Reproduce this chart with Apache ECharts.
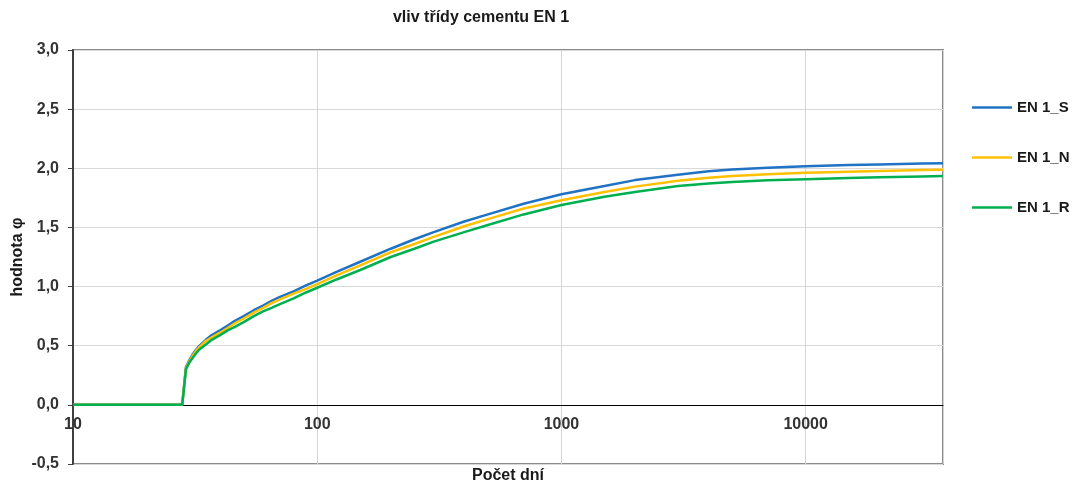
<!DOCTYPE html>
<html>
<head>
<meta charset="utf-8">
<script src="https://cdn.jsdelivr.net/npm/echarts@6/dist/echarts.min.js"></script>
<style>
  html, body { margin: 0; padding: 0; background: #fff; }
  #chart { width: 1073px; height: 484px; }
</style>
</head>
<body>
<div id="chart"></div>
<script>
// Age of concrete in days (log scale)
const days = [10, 28, 29, 30, 31, 32, 33, 35, 37, 40, 43, 46, 50, 55, 60, 65, 70, 80, 90, 100, 120, 150, 200, 250, 300, 400, 500, 700, 1000, 1500, 2000, 3000, 4000, 5000, 7000, 10000, 15000, 20000, 30000, 36500];

// Creep coefficient for cement classes S, N, R
const phiS = [0, 0, 0.32, 0.38, 0.43, 0.47, 0.50, 0.55, 0.59, 0.63, 0.67, 0.71, 0.75, 0.80, 0.84, 0.88, 0.91, 0.96, 1.01, 1.05, 1.125, 1.21, 1.32, 1.40, 1.46, 1.55, 1.61, 1.70, 1.78, 1.85, 1.90, 1.945, 1.975, 1.99, 2.005, 2.018, 2.027, 2.033, 2.04, 2.043];
const phiN = [0, 0, 0.31, 0.37, 0.42, 0.46, 0.49, 0.54, 0.57, 0.61, 0.65, 0.69, 0.73, 0.78, 0.82, 0.86, 0.89, 0.94, 0.98, 1.02, 1.095, 1.18, 1.29, 1.36, 1.42, 1.51, 1.57, 1.66, 1.73, 1.80, 1.845, 1.895, 1.92, 1.935, 1.95, 1.962, 1.971, 1.977, 1.985, 1.988];
const phiR = [0, 0, 0.30, 0.36, 0.40, 0.44, 0.47, 0.51, 0.55, 0.59, 0.63, 0.66, 0.70, 0.75, 0.79, 0.82, 0.85, 0.90, 0.95, 0.99, 1.06, 1.14, 1.25, 1.32, 1.38, 1.46, 1.52, 1.61, 1.69, 1.76, 1.80, 1.85, 1.872, 1.885, 1.898, 1.908, 1.918, 1.924, 1.931, 1.934];

const seriesNames = ['EN 1_S', 'EN 1_N', 'EN 1_R'];
const seriesColors = ['#1F72C4', '#FFC000', '#00B050'];
const seriesValues = [phiS, phiN, phiR];

const yTicks = { min: -0.5, max: 3.0, step: 0.5 };
const xRange = { min: 10, max: 36500 };

const FONT = '"Liberation Sans", Arial, sans-serif';
const labelStyle = { fontFamily: FONT, fontWeight: 'bold', fontSize: 16, color: '#333333' };

const chart = echarts.init(document.getElementById('chart'), null, { renderer: 'canvas' });

const series = seriesNames.map((name, i) => ({
  name: name,
  type: 'line',
  xAxisIndex: 0,
  yAxisIndex: 0,
  symbol: 'none',
  smooth: false,
  lineStyle: { width: 2.5, color: seriesColors[i] },
  itemStyle: { color: seriesColors[i] },
  data: days.map((d, j) => [d, seriesValues[i][j]])
}));

chart.setOption({
  animation: false,
  backgroundColor: '#ffffff',
  grid: [
    // plot area
    { left: 73, top: 50, right: 130, bottom: 20, show: true, borderColor: '#8c8c8c', borderWidth: 2,
      containLabel: false, outerBoundsMode: 'none' },
    // band ending at φ = 0, carries the day axis and its labels
    { left: 73, top: 50, right: 130, bottom: 79, show: false,
      containLabel: false, outerBoundsMode: 'none' }
  ],
  legend: {
    orient: 'vertical',
    left: 972,
    top: 100,
    padding: 0,
    itemWidth: 40,
    itemHeight: 2.5,
    itemGap: 35,
    icon: 'rect',
    textStyle: { fontFamily: FONT, fontWeight: 'bold', fontSize: 15, color: '#1a1a1a' },
    data: seriesNames
  },
  xAxis: [
    {
      type: 'log', logBase: 10, gridIndex: 0,
      min: xRange.min, max: xRange.max,
      axisLine: { show: false },
      axisTick: { show: false },
      axisLabel: { show: false },
      splitLine: { show: true, lineStyle: { color: '#d4d4d4', width: 1 } }
    },
    {
      type: 'log', logBase: 10, gridIndex: 1,
      min: xRange.min, max: xRange.max,
      axisLine: { show: true, onZero: false, lineStyle: { color: '#000000', width: 1 } },
      axisTick: { show: false },
      axisLabel: Object.assign({
        showMaxLabel: false,
        margin: 12,
        formatter: v => String(Math.round(v))
      }, labelStyle),
      splitLine: { show: false }
    }
  ],
  yAxis: [
    {
      type: 'value', gridIndex: 0,
      min: yTicks.min, max: yTicks.max, interval: yTicks.step,
      name: 'hodnota φ',
      nameLocation: 'middle',
      nameGap: 47,
      nameMoveOverlap: false,
      nameTextStyle: { fontFamily: FONT, fontWeight: 'bold', fontSize: 16, color: '#1a1a1a' },
      axisLine: { show: true, onZero: false, lineStyle: { color: '#404040', width: 2 } },
      axisTick: { show: true, inside: false, length: 5, lineStyle: { color: '#404040', width: 1 } },
      axisLabel: Object.assign({
        margin: 14,
        formatter: v => v.toFixed(1).replace('.', ',')
      }, labelStyle),
      splitLine: { show: true, lineStyle: { color: '#d9d9d9', width: 1 } }
    },
    {
      type: 'value', gridIndex: 1, show: false, min: 0, max: 1
    }
  ],
  graphic: [
    {
      type: 'text', x: 481, y: 18,
      style: { text: 'vliv třídy cementu EN 1', font: 'bold 16px ' + FONT, fill: '#1a1a1a', align: 'center', verticalAlign: 'middle' }
    },
    {
      type: 'text', x: 508, y: 476,
      style: { text: 'Počet dní', font: 'bold 16px ' + FONT, fill: '#1a1a1a', align: 'center', verticalAlign: 'middle' }
    }
  ],
  series: series
});
</script>
</body>
</html>
